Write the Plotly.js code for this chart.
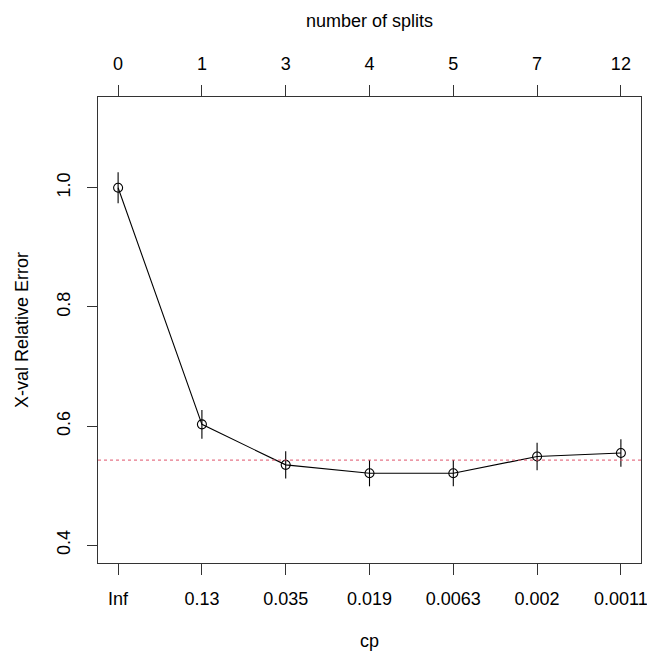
<!DOCTYPE html>
<html>
<head>
<meta charset="utf-8">
<script src="https://cdn.plot.ly/plotly-3.0.1.min.js"></script>
<style>html,body{margin:0;padding:0;background:#fff;}#plot{width:647px;height:652px;}</style>
</head>
<body>
<div id="plot"></div>
<script>
// complexity parameter labels (bottom axis)
const cpLabels = ["Inf", "0.13", "0.035", "0.019", "0.0063", "0.002", "0.0011"];
// number of splits (top axis)
const nSplits = [0, 1, 3, 4, 5, 7, 12];
// cross-validated relative error
const xError = [1.000, 0.603, 0.535, 0.521, 0.521, 0.549, 0.555];
// standard error of xerror
const xStd = [0.026, 0.024, 0.023, 0.022, 0.022, 0.023, 0.023];
// min xerror + 1 SE reference line
const threshold = 0.543;

const pos = cpLabels.map((_, i) => i + 1);
const FONT = "Liberation Sans, Arial, Helvetica, sans-serif";
const FS = 18;
const AXCOL = "#333333";

const traces = [
  {
    x: pos, y: xError, type: "scatter", mode: "lines+markers",
    line: {color: "#000", width: 1.1},
    marker: {symbol: "circle-open", size: 9, color: "#000", line: {width: 1.1, color: "#000"}},
    error_y: {type: "data", array: xStd, visible: true, color: "#000", thickness: 1.1, width: 0},
    hoverinfo: "skip", showlegend: false
  },
  {
    x: pos, y: xError, type: "scatter", mode: "markers", xaxis: "x2",
    marker: {opacity: 0, size: 1}, hoverinfo: "skip", showlegend: false
  }
];

const xr = [0.76, 7.24];
const layout = {
  width: 647, height: 652,
  margin: {l: 98, r: 6, t: 96.5, b: 89},
  paper_bgcolor: "#fff", plot_bgcolor: "#fff",
  font: {family: FONT, size: FS, color: "#000"},
  showlegend: false,
  xaxis: {
    range: xr, tickmode: "array", tickvals: pos, ticktext: cpLabels,
    showgrid: false, zeroline: false, showline: true, linecolor: AXCOL, linewidth: 1,
    mirror: true, ticks: "outside", ticklen: 11, tickwidth: 1, tickcolor: AXCOL,
    tickfont: {family: FONT, size: FS, color: "#000"}, ticklabelstandoff: 8,
    ticklabeloverflow: "allow"
  },
  xaxis2: {
    range: xr, overlaying: "x", side: "top", anchor: "y", tickmode: "array",
    tickvals: pos, ticktext: nSplits.map(String),
    showgrid: false, zeroline: false, showline: false,
    ticks: "outside", ticklen: 11, tickwidth: 1, tickcolor: AXCOL,
    tickfont: {family: FONT, size: FS, color: "#000"}, ticklabelstandoff: 8,
    ticklabeloverflow: "allow"
  },
  yaxis: {
    range: [0.3703, 1.1524], tickmode: "array", tickvals: [0.4, 0.6, 0.8, 1.0],
    ticktext: ["0.4", "0.6", "0.8", "1.0"], tickangle: -90,
    showgrid: false, zeroline: false, showline: true, linecolor: AXCOL, linewidth: 1,
    mirror: true, ticks: "outside", ticklen: 10, tickwidth: 1, tickcolor: AXCOL,
    tickfont: {family: FONT, size: FS, color: "#000"}, ticklabelstandoff: 10,
    ticklabeloverflow: "allow"
  },
  shapes: [{
    type: "line", xref: "paper", x0: 0, x1: 1, yref: "y", y0: threshold, y1: threshold,
    line: {color: "#DF536B", width: 1, dash: "dot"}
  }],
  annotations: [
    {text: "cp", xref: "paper", yref: "paper", x: 0.5, y: (563 - 641) / 466.5,
     xanchor: "center", yanchor: "middle", showarrow: false, font: {family: FONT, size: FS}},
    {text: "number of splits", xref: "paper", yref: "paper", x: 0.5, y: (563 - 20) / 466.5,
     xanchor: "center", yanchor: "middle", showarrow: false, font: {family: FONT, size: FS}},
    {text: "X-val Relative Error", xref: "paper", yref: "paper", x: (22 - 98) / 543, y: 0.5,
     xanchor: "center", yanchor: "middle", textangle: -90, showarrow: false, font: {family: FONT, size: FS}}
  ]
};

Plotly.newPlot("plot", traces, layout, {displayModeBar: false, staticPlot: true});
</script>
</body>
</html>
